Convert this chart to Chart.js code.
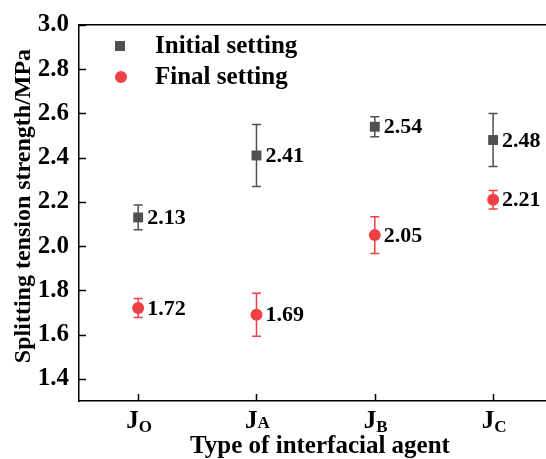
<!DOCTYPE html>
<html>
<head>
<meta charset="utf-8">
<script src="https://cdn.jsdelivr.net/npm/chart.js@4"></script>
<style>
html,body{margin:0;padding:0;background:#fff;overflow:hidden}
/* canvas a little wider than the window: the scatter point overflow padding is cut off on the right */
#wrap{width:553px;height:459px;position:relative}
</style>
</head>
<body>
<div id="wrap"><canvas id="chart"></canvas></div>
<script>
const agents=['O','A','B','C']
const xpos=[1,2,3,4]
const initial=[2.13,2.41,2.54,2.48]
const initialErr=[0.056,0.14,0.045,0.12]
const final=[1.72,1.69,2.05,2.21]
const finalErr=[0.043,0.097,0.083,0.042]
const yTicks=[1.4,1.6,1.8,2.0,2.2,2.4,2.6,2.8,3.0]

const serif='"Liberation Serif","Times New Roman",serif'
const gray='#505050'
const red='#f04044'

const errs=[initialErr,finalErr]

const extras={
  id:'extras',
  beforeDatasetsDraw(chart){
    const ctx=chart.ctx, xs=chart.scales.x, ys=chart.scales.y
    ctx.save()
    chart.data.datasets.forEach((ds,i)=>{
      ctx.strokeStyle=ds.borderColor
      ctx.lineWidth=1.5
      ds.data.forEach((p,j)=>{
        const x=xs.getPixelForValue(p.x)
        const y1=ys.getPixelForValue(p.y+errs[i][j])
        const y2=ys.getPixelForValue(p.y-errs[i][j])
        ctx.beginPath()
        ctx.moveTo(x,y1);ctx.lineTo(x,y2)
        ctx.moveTo(x-4.5,y1);ctx.lineTo(x+4.5,y1)
        ctx.moveTo(x-4.5,y2);ctx.lineTo(x+4.5,y2)
        ctx.stroke()
      })
    })
    ctx.restore()
  },
  afterDatasetsDraw(chart){
    const ctx=chart.ctx, xs=chart.scales.x, ys=chart.scales.y, a=chart.chartArea
    ctx.save()
    // value labels
    ctx.fillStyle='#000'
    ctx.font='bold 22px '+serif
    ctx.textAlign='left'
    ctx.textBaseline='middle'
    chart.data.datasets.forEach(ds=>{
      ds.data.forEach(p=>{
        ctx.fillText(p.y.toFixed(2),xs.getPixelForValue(p.x)+9,ys.getPixelForValue(p.y)+1)
      })
    })
    // inward ticks
    ctx.strokeStyle='#000'
    ctx.lineWidth=1.5
    ctx.beginPath()
    yTicks.forEach(v=>{
      const y=Math.round(ys.getPixelForValue(v))+0.5
      ctx.moveTo(a.left,y);ctx.lineTo(a.left+7,y)
    })
    xpos.forEach(v=>{
      const x=Math.round(xs.getPixelForValue(v))+0.5
      ctx.moveTo(x,a.bottom);ctx.lineTo(x,a.bottom-7)
    })
    ctx.stroke()
    // x tick labels with subscripts
    xpos.forEach((v,i)=>{
      const x=xs.getPixelForValue(v)
      ctx.font='bold 25px '+serif
      const wJ=ctx.measureText('J').width
      ctx.font='bold 17px '+serif
      const wS=ctx.measureText(agents[i]).width
      const x0=x-(wJ+wS)/2+1
      ctx.textBaseline='alphabetic'
      ctx.font='bold 25px '+serif
      ctx.fillText('J',x0,428)
      ctx.font='bold 17px '+serif
      ctx.fillText(agents[i],x0+wJ,agents[i]==='A'?428:432)
    })
    // axis titles
    ctx.font='bold 25px '+serif
    ctx.textAlign='center'
    ctx.fillText('Type of interfacial agent',320,453)
    ctx.save()
    ctx.font='bold 24px '+serif
    ctx.translate(30,206)
    ctx.rotate(-Math.PI/2)
    ctx.fillText('Splitting tension strength/MPa',0,0)
    ctx.restore()
    // legend
    ctx.font='bold 25px '+serif
    ctx.textAlign='left'
    ctx.textBaseline='middle'
    const ly=[46,77]
    chart.data.datasets.forEach((ds,i)=>{
      ctx.fillStyle=ds.backgroundColor
      if(ds.pointStyle==='rect'){
        ctx.fillRect(115,ly[i]-5,10,10)
      }else{
        ctx.beginPath();ctx.arc(121,ly[i],6,0,Math.PI*2);ctx.fill()
      }
      ctx.fillStyle='#000'
      ctx.fillText(ds.label,155,ly[i]+1)
    })
    ctx.restore()
  }
}

new Chart(document.getElementById('chart'),{
  type:'scatter',
  data:{
    datasets:[
      {label:'Initial setting',data:xpos.map((x,i)=>({x:x,y:initial[i]})),
       pointStyle:'rect',pointRadius:7,pointHoverRadius:7,backgroundColor:gray,borderColor:gray,borderWidth:0},
      {label:'Final setting',data:xpos.map((x,i)=>({x:x,y:final[i]})),
       pointStyle:'circle',pointRadius:6,pointHoverRadius:6,backgroundColor:red,borderColor:red,borderWidth:0}
    ]
  },
  options:{
    responsive:true,
    maintainAspectRatio:false,
    animation:false,
    events:[],
    layout:{padding:0},
    plugins:{legend:{display:false},tooltip:{enabled:false}},
    scales:{
      x:{
        type:'linear',min:0.5,max:4.447,
        afterBuildTicks:s=>{s.ticks=xpos.map(v=>({value:v}))},
        afterFit:s=>{s.height=58},
        ticks:{display:false},
        grid:{display:false},
        border:{display:true,color:'#000',width:1.5}
      },
      xTop:{
        type:'linear',position:'top',min:0.5,max:4.447,
        afterFit:s=>{s.height=20},
        ticks:{display:false},
        grid:{display:false},
        border:{display:true,color:'#000',width:1.5}
      },
      y:{
        min:1.3,max:3.0,
        afterBuildTicks:s=>{s.ticks=yTicks.map(v=>({value:v}))},
        afterFit:s=>{s.width=79},
        ticks:{color:'#000',padding:10,font:{family:serif,size:25,weight:'bold'},callback:v=>v.toFixed(1)},
        grid:{drawOnChartArea:false,drawTicks:false},
        border:{display:true,color:'#000',width:1.5}
      }
    }
  },
  plugins:[extras]
})
</script>
</body>
</html>
